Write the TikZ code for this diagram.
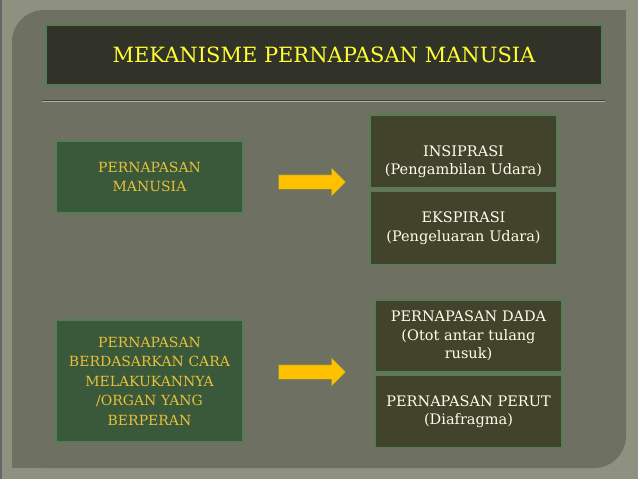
\documentclass[tikz,border=0pt]{standalone}
\usepackage{fontspec}
\setmainfont{DejaVu Serif}
\usepackage{tikz}
\usetikzlibrary{shapes,arrows,positioning}
\definecolor{outerbg}{RGB}{142,144,128}
\definecolor{panelbg}{RGB}{110,112,98}
\definecolor{titlefill}{RGB}{50,51,40}
\definecolor{edgegreen}{RGB}{86,124,86}
\definecolor{leftfill}{RGB}{58,88,58}
\definecolor{rightfill}{RGB}{65,67,42}
\definecolor{gold}{RGB}{232,192,58}
\definecolor{arrowfill}{RGB}{255,192,0}
\definecolor{titletext}{RGB}{255,255,51}
\tikzstyle{title} = [draw=edgegreen, line width=1.5pt, fill=titlefill, minimum width=556pt, minimum height=60pt, text=titletext, font=\fontsize{21}{25}\selectfont]
\tikzstyle{leftbox} = [draw=edgegreen, line width=1.5pt, fill=leftfill, minimum width=187pt, text width=180pt, align=center, text=gold, font=\fontsize{14}{19.5}\selectfont]
\tikzstyle{rightbox} = [draw=edgegreen, line width=1.5pt, fill=rightfill, minimum width=187pt, minimum height=73pt, text width=180pt, align=center, text=white!94!yellow, font=\fontsize{14.5}{18.5}\selectfont]
\tikzstyle{bigarrow} = [draw=edgegreen!70!arrowfill, fill=arrowfill, single arrow, single arrow head extend=7pt, inner sep=7pt, minimum height=67pt]

\begin{document}
\begin{tikzpicture}[x=1pt, y=-1pt, node distance=2pt]
        \useasboundingbox (0,0) rectangle (638,479);
        % background
        \fill[outerbg] (0,0) rectangle (638,479);
        \fill[black!60] (0,0) rectangle (2,479);
        \fill[panelbg, rounded corners=32pt] (12,10) rectangle (626,468);
        \fill[panelbg] (594,10) rectangle (626,42);
        \fill[panelbg] (12,436) rectangle (44,468);
        % title
        \node[title] (head) at (324,55) {MEKANISME PERNAPASAN MANUSIA};
        \coordinate (sepL) at (42,100);
        \coordinate (sepR) at (605,100);
        \draw[black!75, line width=1pt] (sepL) -- (sepR);
        \draw[outerbg!70!white, line width=0.8pt] ([yshift=-1.6pt]sepL) -- ([yshift=-1.6pt]sepR);
        % upper row
        \node[leftbox, minimum height=72pt] (manusia) at (149.5,177) {PERNAPASAN\\MANUSIA};
        \node[bigarrow] (arrA) at (308.5,182) {};
        \node[rightbox] (inspirasi) at (463.5,151.5) {\rule{0pt}{31pt}INSIPRASI\\(Pengambilan Udara)};
        \node[rightbox, below=of inspirasi] (ekspirasi) {EKSPIRASI\\(Pengeluaran Udara)};
        % lower row
        \node[leftbox, minimum height=122pt] (cara) at (149.5,381) {PERNAPASAN\\BERDASARKAN CARA\\MELAKUKANNYA\\/ORGAN YANG\\BERPERAN};
        \node[bigarrow] (arrB) at (308.5,372) {};
        \node[rightbox, minimum height=72pt] (dada) at (468.5,336) {PERNAPASAN DADA\\(Otot antar tulang\\rusuk)};
        \node[rightbox, minimum height=72pt, below=of dada] (perut) {PERNAPASAN PERUT\\(Diafragma)};
\end{tikzpicture}
\end{document}
